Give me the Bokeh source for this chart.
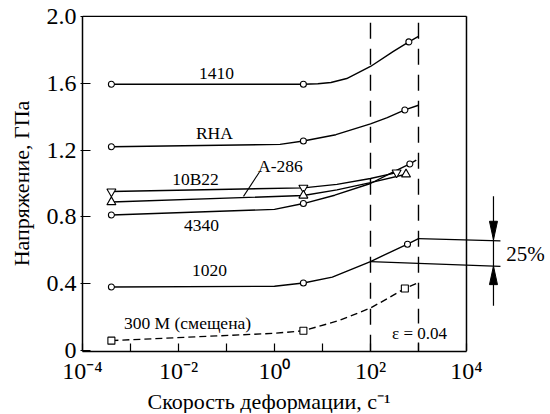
from bokeh.plotting import figure
from bokeh.models import FixedTicker, CustomJSTickFormatter, Label, Title
from bokeh.embed import file_html
from bokeh.resources import INLINE

FONT = "Liberation Serif"

# ---------------- data ----------------
x_ticks = [1e-4, 1e-3, 1e-2, 1e-1, 1e0, 1e1, 1e2, 1e3, 1e4]
x_tick_labels = ["10⁻⁴", "", "10⁻²", "", "10⁰", "", "10²", "", "10⁴"]
y_ticks = [0, 0.4, 0.8, 1.2, 1.6, 2.0]
y_tick_labels = ["0", "0.4", "0.8", "1.2", "1.6", "2.0"]

x_min, x_max = 1e-4, 1e4                 # plotted box of the chart
y_min, y_max = 0.0, 2.0
strain_rate_marks = [100, 1000]          # dashed vertical lines

# 1410
c1410_x = [4e-4, 4, 8, 15, 32, 100, 300, 630, 1000]
c1410_y = [1.594, 1.594, 1.597, 1.604, 1.628, 1.70, 1.79, 1.847, 1.88]
m1410_x = [4e-4, 4, 630]
m1410_y = [1.594, 1.594, 1.847]
# RHA
crha_x = [4e-4, 1.3, 4, 19, 100, 224, 520, 1000]
crha_y = [1.22, 1.234, 1.254, 1.292, 1.357, 1.394, 1.44, 1.468]
mrha_x = [4e-4, 4, 520]
mrha_y = [1.22, 1.254, 1.44]
# 10B22
c10b22_x = [4e-4, 4, 20, 100, 350]
c10b22_y = [0.952, 0.974, 0.995, 1.03, 1.065]
m10b22_x = [4e-4, 4, 350]
m10b22_y = [0.952, 0.974, 1.065]
# A-286
ca286_x = [4e-4, 4, 20, 100, 550]
ca286_y = [0.889, 0.928, 0.962, 1.005, 1.055]
ma286_x = [4e-4, 4, 550]
ma286_y = [0.889, 0.928, 1.055]
# 4340
c4340_x = [4e-4, 1, 4, 18, 100, 300, 660, 900]
c4340_y = [0.812, 0.845, 0.88, 0.93, 1.0, 1.07, 1.117, 1.14]
m4340_x = [4e-4, 4, 660]
m4340_y = [0.812, 0.88, 1.117]
# 1020
c1020_x = [4e-4, 1, 4, 16, 100, 260, 590, 1000]
c1020_y = [0.381, 0.385, 0.405, 0.44, 0.533, 0.59, 0.637, 0.67]
m1020_x = [4e-4, 4, 590]
m1020_y = [0.381, 0.405, 0.637]
# 300 M (shifted)
c300m_x = [4e-4, 1, 4, 22, 100, 220, 520, 1000]
c300m_y = [0.06, 0.104, 0.119, 0.18, 0.255, 0.31, 0.372, 0.407]
m300m_x = [4e-4, 4, 520]
m300m_y = [0.06, 0.119, 0.372]

# ---------------- figure ----------------
W, H = 548, 413
p = figure(width=W, height=H, x_axis_type="log",
           x_range=(1e-4, 10 ** 5.667), y_range=(-0.005, 2.005),
           output_backend="svg", toolbar_location=None,
           min_border_left=82, min_border_right=2,
           min_border_top=15, min_border_bottom=H - 354)
p.grid.visible = False
p.outline_line_color = None
p.background_fill_color = "white"
p.border_fill_color = "white"

fmt_code = """
for (let i = 0; i < vals.length; i++) {
  const v = vals[i];
  if (Math.abs(v - tick) <= 1e-6 * Math.max(Math.abs(v), 1e-12)) return labs[i];
}
return "";
"""

p.xaxis.ticker = FixedTicker(ticks=x_ticks)
p.xaxis.formatter = CustomJSTickFormatter(args=dict(vals=x_ticks, labs=x_tick_labels), code=fmt_code)
p.yaxis.ticker = FixedTicker(ticks=y_ticks)
p.yaxis.formatter = CustomJSTickFormatter(args=dict(vals=y_ticks, labs=y_tick_labels), code=fmt_code)

for ax in (p.xaxis, p.yaxis):
    ax.axis_line_width = 1.5
    ax.axis_line_color = "black"
    ax.major_tick_line_width = 1.2
    ax.major_tick_line_color = "black"
    ax.minor_tick_line_color = None
    ax.major_label_text_font = FONT
    ax.major_label_text_font_size = "24px"
    ax.major_label_text_color = "black"
    ax.axis_label_text_font = FONT
    ax.axis_label_text_font_size = "22px"
    ax.axis_label_text_font_style = "normal"
    ax.axis_label_text_color = "black"
p.xaxis.bounds = (x_min, x_max)
p.yaxis.bounds = (y_min, y_max)
p.xaxis.major_tick_in = 8
p.xaxis.major_tick_out = 0
p.xaxis.major_label_standoff = 6
p.yaxis.major_tick_in = 8
p.yaxis.major_tick_out = 2
p.yaxis.major_label_standoff = 4
p.yaxis.axis_label = "Напряжение, ГПа"
p.yaxis.axis_label_standoff = 10

# x-axis title, centred under the box (not under the whole frame)
xt = Title(text="Скорость деформации, с⁻¹", align="left", offset=65, standoff=0,
           text_font=FONT, text_font_size="22px", text_font_style="normal",
           text_color="black")
p.add_layout(xt, "below")

# box: top and right edges
p.segment(x0=[x_min, x_max], y0=[y_max, y_min],
          x1=[x_max, x_max], y1=[y_max, y_max],
          line_color="black", line_width=1.5)

# dashed vertical lines
p.segment(x0=strain_rate_marks, y0=[y_min] * len(strain_rate_marks),
          x1=strain_rate_marks, y1=[y_max] * len(strain_rate_marks),
          line_color="black", line_width=1.4, line_dash="16 10")

series = [
    (c1410_x, c1410_y, m1410_x, m1410_y, "circle", 6, "solid"),
    (crha_x, crha_y, mrha_x, mrha_y, "circle", 6, "solid"),
    (c10b22_x, c10b22_y, m10b22_x, m10b22_y, "inverted_triangle", 9, "solid"),
    (ca286_x, ca286_y, ma286_x, ma286_y, "triangle", 9, "solid"),
    (c4340_x, c4340_y, m4340_x, m4340_y, "circle", 6, "solid"),
    (c1020_x, c1020_y, m1020_x, m1020_y, "circle", 6, "solid"),
    (c300m_x, c300m_y, m300m_x, m300m_y, "square", 7, "7 4"),
]
for cx, cy, mx, my, mk, sz, dash in series:
    p.line(cx, cy, line_color="black", line_width=1.4, line_dash=dash)
for cx, cy, mx, my, mk, sz, dash in series:
    p.scatter(mx, my, marker=mk, size=sz, fill_color="white",
              line_color="black", line_width=1.1)

# leader line for A-286
p.segment(x0=[0.487], y0=[1.069], x1=[0.226], y1=[0.923],
          line_color="black", line_width=1.1)

def lab(text, x, y, size="17.5px", **kw):
    l = Label(x=x, y=y, text=text, text_font=FONT, text_font_size=size,
              text_align="center", text_baseline="middle", text_color="black", **kw)
    p.add_layout(l)
    return l

lab("1410", 0.062, 1.659)
lab("RHA", 0.056, 1.302)
lab("10B22", 0.0226, 1.025)
lab("A-286", 1.33, 1.104)
lab("4340", 0.030, 0.750)
lab("1020", 0.044, 0.479)
lab("300 M (смещена)", 0.0154, 0.166)
lab("ε = 0.04", 1050, 0.105, size="17px", background_fill_color="white")

# 25 % annotation on the right of the box
xv = 3.65e4
xo = 5.1e4
p.segment(x0=[1000, 100, xv], y0=[0.67, 0.533, 0.923],
          x1=[xo, xo, xv], y1=[0.657, 0.504, 0.269],
          line_color="black", line_width=1.2)
hw = 1.212
p.patches(xs=[[xv / hw, xv, xv * hw], [xv / hw, xv, xv * hw]],
          ys=[[0.774, 0.663, 0.774], [0.395, 0.506, 0.395]],
          fill_color="black", line_color="black", line_width=1)
lab("25%", 1.69e5, 0.581, size="21px")

open("out.html", "w").write(file_html(p, INLINE))
